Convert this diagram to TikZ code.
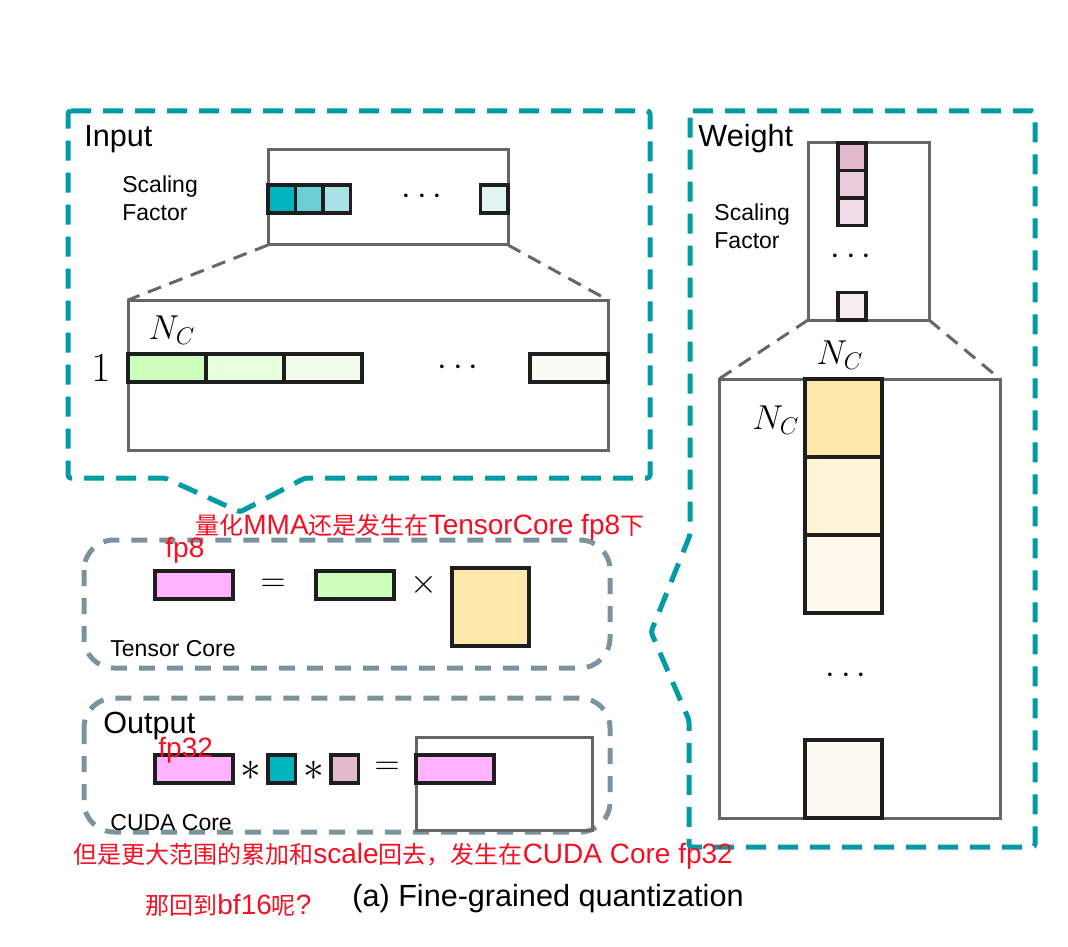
\documentclass[tikz,border=0pt]{standalone}
\usepackage[no-math]{fontspec}
\setmainfont{Liberation Sans}
\newfontfamily\cjk{Noto Sans CJK SC}
\newcommand\zh[1]{{\cjk\fontsize{12}{15}\selectfont #1}}
\usepackage{xcolor}
\usetikzlibrary{positioning}

\definecolor{boxTeal}{RGB}{0,155,165}
\definecolor{coreGray}{RGB}{122,147,156}
\definecolor{frameGray}{RGB}{102,102,102}
\definecolor{cellLine}{RGB}{30,30,30}
\definecolor{remarkRed}{RGB}{245,15,35}
\definecolor{tealA}{RGB}{0,180,190}
\definecolor{tealB}{RGB}{108,205,211}
\definecolor{tealC}{RGB}{168,224,227}
\definecolor{tealD}{RGB}{224,244,246}
\definecolor{greenA}{RGB}{204,255,187}
\definecolor{greenB}{RGB}{229,255,221}
\definecolor{greenC}{RGB}{242,252,235}
\definecolor{greenD}{RGB}{248,252,245}
\definecolor{pinkA}{RGB}{226,184,203}
\definecolor{pinkB}{RGB}{235,204,218}
\definecolor{pinkC}{RGB}{242,222,232}
\definecolor{pinkD}{RGB}{248,238,242}
\definecolor{yellowA}{RGB}{255,232,170}
\definecolor{yellowB}{RGB}{255,243,214}
\definecolor{yellowC}{RGB}{255,249,236}
\definecolor{yellowD}{RGB}{255,251,242}
\definecolor{outPink}{RGB}{255,179,255}

\begin{document}
\begin{tikzpicture}[x=0.5pt, y=-0.5pt]
    \tikzset{Box/.style={draw=boxTeal, line width=2.5pt, dash pattern=on 10pt off 6pt, rounded corners=1.5pt}}
    \tikzset{Core/.style={draw=coreGray, line width=2.5pt, dash pattern=on 8pt off 6pt, rounded corners=15pt}}
    \tikzset{Frame/.style={rectangle, draw=frameGray, line width=1.5pt, inner sep=0, outer sep=0}}
    \tikzset{Zoom/.style={draw=frameGray, line width=1.5pt, dash pattern=on 7pt off 4.5pt}}
    \tikzset{Cell/.style={rectangle, draw=cellLine, line width=1.7pt, inner sep=0, outer sep=0}}
    \tikzset{SfCell/.style={Cell, minimum width=13.75pt, minimum height=14pt}}
    \tikzset{ColCell/.style={Cell, minimum width=14pt, minimum height=13.75pt}}
    \tikzset{RowCell/.style={Cell, minimum width=39pt, minimum height=14pt}}
    \tikzset{Block/.style={Cell, minimum width=38.5pt, minimum height=39pt}}
    \tikzset{Label/.style={font=\fontsize{15.3}{18}\selectfont, inner sep=0}}
    \tikzset{Note/.style={font=\fontsize{11.5}{14}\selectfont, inner sep=0}}
    \tikzset{Remark/.style={font=\fontsize{14}{15}\selectfont, text=remarkRed, inner sep=0}}

    \useasboundingbox (0,0) rectangle (1068,946);

    \draw[Box] (68,111) -- (650,111) -- (650,478) -- (305,478) -- (240,512) -- (165,478) -- (68,478) -- cycle;
    \draw[Box] (690,111) -- (1035,111) -- (1035,847) -- (689,847) -- (689,720) -- (651,632) -- (690,535) -- cycle;
    \draw[Core] (84,540) rectangle (610,668);
    \draw[Core] (84,698) rectangle (610,832);

    \node[Label, anchor=base west] (inTitle) at (84,147) {Input};
    \node[Note, anchor=west, align=left] (sfiText) at (122,198.5) {Scaling\\Factor};
    \node[Frame, minimum width=120pt, minimum height=47.5pt, anchor=north west] (sfi) at (268,150) {};
    \node[SfCell, fill=tealA, anchor=north west] (ti1) at (268,185) {};
    \node[SfCell, fill=tealB, right=0pt of ti1] (ti2) {};
    \node[SfCell, fill=tealC, right=0pt of ti2] (ti3) {};
    \node[SfCell, fill=tealD, anchor=north east] (ti4) at (508,185) {};
    \node (dotsA) at (422,197) {\LARGE $\cdots$};

    \node[Frame, minimum width=240pt, minimum height=75pt, anchor=north west] (bigi) at (128,300) {};
    \node (nci) at (172,330) {\LARGE $N_C$};
    \node (one) at (101,368) {\huge $1$};
    \node[RowCell, fill=greenA, anchor=north west] (gi1) at (128,354) {};
    \node[RowCell, fill=greenB, right=0pt of gi1] (gi2) {};
    \node[RowCell, fill=greenC, right=0pt of gi2] (gi3) {};
    \node[RowCell, fill=greenD, anchor=north east] (gi4) at (608,354) {};
    \node (dotsB) at (458,368) {\LARGE $\cdots$};
    \draw[Zoom] (sfi.south west) -- (bigi.north west);
    \draw[Zoom] (sfi.south east) -- (bigi.north east);

    \node[Label, anchor=base west] (wTitle) at (698,147) {Weight};
    \node[Note, anchor=west, align=left] (sfwText) at (714,226) {Scaling\\Factor};
    \node[Frame, minimum width=60.5pt, minimum height=88.5pt, anchor=north west] (sfw) at (808,143) {};
    \node[ColCell, fill=pinkA, anchor=north west] (pw1) at (838,143) {};
    \node[ColCell, fill=pinkB, below=0pt of pw1] (pw2) {};
    \node[ColCell, fill=pinkC, below=0pt of pw2] (pw3) {};
    \node[ColCell, fill=pinkD, anchor=south west] (pw4) at (838,320) {};
    \node (dotsC) at (851,257) {\LARGE $\cdots$};

    \node[Frame, minimum width=140.5pt, minimum height=219.5pt, anchor=north west] (bigw) at (719,379) {};
    \node (ncw) at (840,355) {\LARGE $N_C$};
    \node (ncwl) at (776,420) {\LARGE $N_C$};
    \node[Block, fill=yellowA, anchor=north west] (yw1) at (805,379) {};
    \node[Block, fill=yellowB, below=0pt of yw1] (yw2) {};
    \node[Block, fill=yellowC, below=0pt of yw2] (yw3) {};
    \node[Block, fill=yellowD, anchor=south west] (yw4) at (805,818) {};
    \node (dotsD) at (846,676) {\LARGE $\cdots$};
    \draw[Zoom] (sfw.south west) -- (bigw.north west);
    \draw[Zoom] (sfw.south east) -- (bigw.north east);

    \node[RowCell, fill=outPink, anchor=north west] (pa) at (155,571) {};
    \node (eqA) at (273,585) {\LARGE $=$};
    \node[RowCell, fill=greenA, anchor=north west] (ga) at (316,571) {};
    \node (mul) at (424,585) {\LARGE $\times$};
    \node[Block, fill=yellowA, anchor=north west] (ya) at (452,568) {};
    \node[Note, anchor=base west] (tcText) at (110,656) {Tensor Core};

    \node[Label, anchor=base west] (outTitle) at (103,733) {Output};
    \node[RowCell, fill=outPink, anchor=north west] (pb) at (155,755) {};
    \node (astA) at (251,771) {\huge $*$};
    \node[SfCell, fill=tealA, anchor=north west] (tb) at (268,755) {};
    \node (astB) at (314,771) {\huge $*$};
    \node[SfCell, fill=pinkA, anchor=north west] (kb) at (331,755) {};
    \node (eqB) at (387,768) {\LARGE $=$};
    \node[Frame, minimum width=88pt, minimum height=46.5pt, anchor=north west] (acc) at (416,737) {};
    \node[RowCell, fill=outPink, anchor=north west] (pc) at (416,755) {};
    \node[Note, anchor=base west] (ccText) at (110,830) {CUDA Core};

    \node[Label, anchor=base west] (cap) at (352,906) {(a) Fine-grained quantization};

    \node[Remark, anchor=west] (noteA) at (195,527) {\zh{量化}MMA\zh{还是发生在}TensorCore fp8\zh{下}};
    \node[Remark, anchor=west] (fp8) at (165,550) {fp8};
    \node[Remark, anchor=west] (fp32) at (158,750) {fp32};
    \node[Remark, anchor=west] (noteB) at (73,856) {\zh{但是更大范围的累加和}scale\zh{回去，发生在}CUDA Core fp32};
    \node[Remark, anchor=west] (noteC) at (145,905) {\zh{那回到}bf16\zh{呢}?};
\end{tikzpicture}
\end{document}
